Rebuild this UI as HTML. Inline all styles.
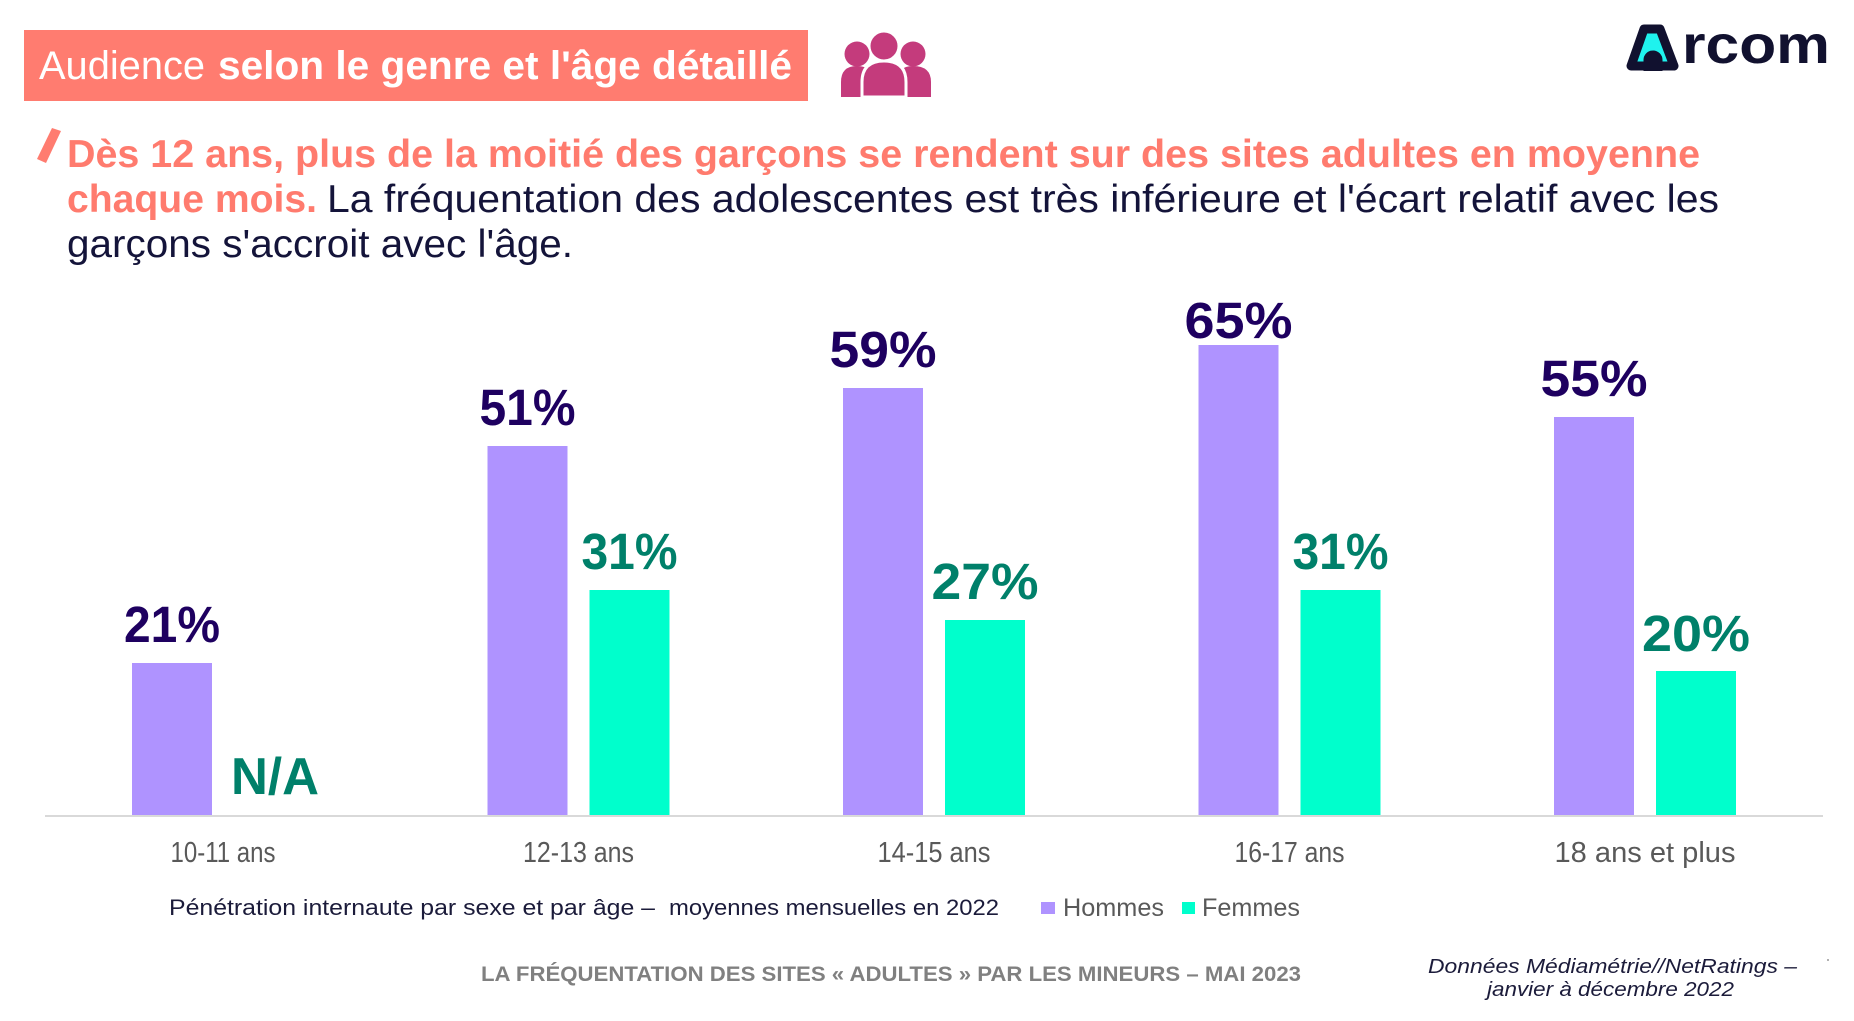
<!DOCTYPE html>
<html>
<head>
<meta charset="utf-8">
<style>
  html,body{margin:0;padding:0;background:#fff;}
  svg{display:block;}
  text{font-family:"Liberation Sans","DejaVu Sans",sans-serif;}
</style>
</head>
<body>
<svg width="1854" height="1021" viewBox="0 0 1854 1021" xmlns="http://www.w3.org/2000/svg">
  <rect x="0" y="0" width="1854" height="1021" fill="#ffffff"/>

  <!-- Title banner -->
  <rect x="24" y="30" width="784" height="71" fill="#FF7C70"/>
  <text x="39" y="79" font-size="40" fill="#ffffff" textLength="166" lengthAdjust="spacingAndGlyphs">Audience</text>
  <text x="218" y="79" font-size="40" font-weight="bold" fill="#ffffff" textLength="574" lengthAdjust="spacingAndGlyphs">selon le genre et l'âge détaillé</text>

  <!-- People icon -->
  <g fill="#C43B7C">
    <circle cx="857" cy="54" r="12.5"/>
    <path d="M841,97 L841,82 Q841,66 857,66 Q873,66 873,82 L873,97 Z"/>
    <circle cx="913" cy="54" r="12.5"/>
    <path d="M897,97 L897,82 Q897,66 913,66 Q931,66 931,82 L931,97 Z"/>
    <path d="M862,97 L862,82 Q862,61 884,61 Q906,61 906,82 L906,97 Z" stroke="#ffffff" stroke-width="3"/>
    <circle cx="884" cy="46" r="14.5" stroke="#ffffff" stroke-width="2"/>
  </g>

  <!-- Arcom logo -->
  <polygon points="1644,29 1660,29 1674,66 1631,66" fill="#1FF2EE" stroke="#11112F" stroke-width="9" stroke-linejoin="round"/>
  <path d="M1645,71 L1645,60 A8,8 0 0 1 1661,60 L1661,71" fill="#11112F" stroke="#11112F" stroke-width="3"/>
  <text x="1682" y="63" font-size="54" font-weight="bold" fill="#11112F" textLength="148" lengthAdjust="spacingAndGlyphs">rcom</text>

  <!-- Pen mark -->
  <polygon points="52,128 61,131 46,163 37,159" fill="#FF7C70"/>

  <!-- Headline -->
  <text x="67" y="167" font-size="39" font-weight="bold" fill="#FF7B6E" textLength="1633" lengthAdjust="spacingAndGlyphs">Dès 12 ans, plus de la moitié des garçons se rendent sur des sites adultes en moyenne</text>
  <text x="67" y="212" font-size="39" font-weight="bold" fill="#FF7B6E" textLength="250" lengthAdjust="spacingAndGlyphs">chaque mois.</text>
  <text x="327" y="212" font-size="39" fill="#14143A" textLength="1392" lengthAdjust="spacingAndGlyphs">La fréquentation des adolescentes est très inférieure et l'écart relatif avec les</text>
  <text x="67" y="257" font-size="39" fill="#14143A" textLength="506" lengthAdjust="spacingAndGlyphs">garçons s'accroit avec l'âge.</text>

  <!-- Bars: Hommes -->
  <g fill="#AF93FF">
    <rect x="132" y="663" width="80" height="152"/>
    <rect x="487.5" y="446" width="80" height="369"/>
    <rect x="843" y="388" width="80" height="427"/>
    <rect x="1198.5" y="345" width="80" height="470"/>
    <rect x="1554" y="417" width="80" height="398"/>
  </g>
  <!-- Bars: Femmes -->
  <g fill="#00FFCC">
    <rect x="589.5" y="590" width="80" height="225"/>
    <rect x="945" y="620" width="80" height="195"/>
    <rect x="1300.5" y="590" width="80" height="225"/>
    <rect x="1656" y="671" width="80" height="144"/>
  </g>

  <!-- Baseline -->
  <line x1="45" y1="816" x2="1823" y2="816" stroke="#D9D9D9" stroke-width="2"/>

  <!-- Value labels -->
  <g font-size="51" font-weight="bold" text-anchor="middle">
    <text x="172" y="642" fill="#1E0060" textLength="96" lengthAdjust="spacingAndGlyphs">21%</text>
    <text x="527.5" y="425" fill="#1E0060" textLength="96" lengthAdjust="spacingAndGlyphs">51%</text>
    <text x="883" y="367" fill="#1E0060" textLength="107" lengthAdjust="spacingAndGlyphs">59%</text>
    <text x="1238.5" y="338" fill="#1E0060" textLength="108" lengthAdjust="spacingAndGlyphs">65%</text>
    <text x="1594" y="396" fill="#1E0060" textLength="107" lengthAdjust="spacingAndGlyphs">55%</text>
    <text x="629.5" y="569" fill="#00806A" textLength="96" lengthAdjust="spacingAndGlyphs">31%</text>
    <text x="985" y="599" fill="#00806A" textLength="107" lengthAdjust="spacingAndGlyphs">27%</text>
    <text x="1340.5" y="569" fill="#00806A" textLength="96" lengthAdjust="spacingAndGlyphs">31%</text>
    <text x="1696" y="651" fill="#00806A" textLength="108" lengthAdjust="spacingAndGlyphs">20%</text>
  </g>
  <text x="275" y="794" font-size="52" font-weight="bold" fill="#00806A" text-anchor="middle" textLength="88" lengthAdjust="spacingAndGlyphs">N/A</text>

  <!-- X labels -->
  <g font-size="29" fill="#595959" text-anchor="middle">
    <text x="223" y="862" textLength="105" lengthAdjust="spacingAndGlyphs">10-11 ans</text>
    <text x="578.5" y="862" textLength="111" lengthAdjust="spacingAndGlyphs">12-13 ans</text>
    <text x="934" y="862" textLength="113" lengthAdjust="spacingAndGlyphs">14-15 ans</text>
    <text x="1289.5" y="862" textLength="110" lengthAdjust="spacingAndGlyphs">16-17 ans</text>
    <text x="1645" y="862" textLength="181" lengthAdjust="spacingAndGlyphs">18 ans et plus</text>
  </g>

  <!-- Legend -->
  <text x="169" y="915" font-size="22" fill="#1B1B3A" textLength="486" lengthAdjust="spacingAndGlyphs">Pénétration internaute par sexe et par âge –</text>
  <text x="669" y="915" font-size="22" fill="#1B1B3A" textLength="330" lengthAdjust="spacingAndGlyphs">moyennes mensuelles en 2022</text>
  <rect x="1041" y="902" width="14" height="12" fill="#AF93FF"/>
  <text x="1063" y="916" font-size="25" fill="#595959" textLength="101" lengthAdjust="spacingAndGlyphs">Hommes</text>
  <rect x="1182" y="902" width="13" height="12" fill="#00FFCC"/>
  <text x="1202" y="916" font-size="25" fill="#595959" textLength="98" lengthAdjust="spacingAndGlyphs">Femmes</text>

  <!-- Footer -->
  <text x="481" y="981" font-size="21" font-weight="bold" fill="#808080" textLength="820" lengthAdjust="spacingAndGlyphs">LA FRÉQUENTATION DES SITES « ADULTES » PAR LES MINEURS – MAI 2023</text>
  <text x="1428" y="973" font-size="20" font-style="italic" fill="#1B1B3A" textLength="369" lengthAdjust="spacingAndGlyphs">Données Médiamétrie//NetRatings –</text>
  <text x="1487" y="996" font-size="20" font-style="italic" fill="#1B1B3A" textLength="247" lengthAdjust="spacingAndGlyphs">janvier à décembre 2022</text>
  <circle cx="1828" cy="960" r="1" fill="#999999"/>
</svg>
</body>
</html>
